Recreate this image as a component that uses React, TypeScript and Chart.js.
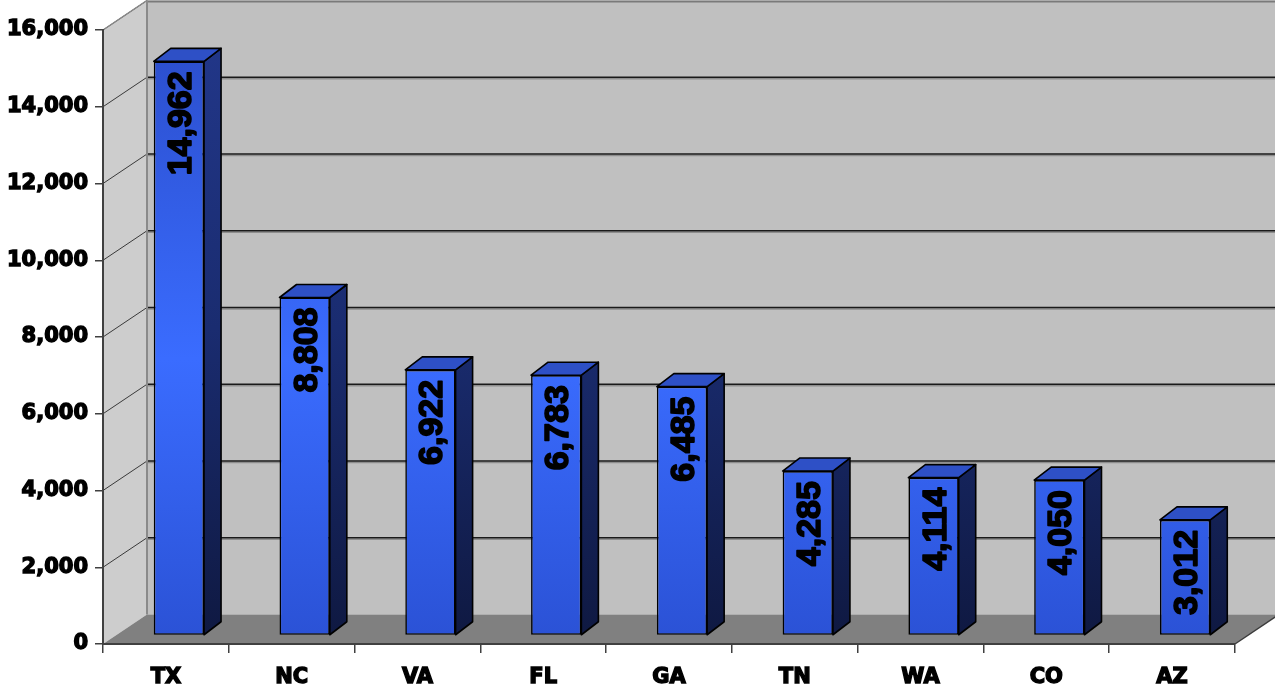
import React, { useEffect, useRef } from "react";
import { Chart, registerables } from "chart.js";

Chart.register(...registerables);

// ---- data ----
const categories = ["TX", "NC", "VA", "FL", "GA", "TN", "WA", "CO", "AZ"];
const values = [14962, 8808, 6922, 6783, 6485, 4285, 4114, 4050, 3012];
const yMin = 0;
const yMax = 16000;
const yStep = 2000;

// ---- 3D geometry / styles ----
const WALL_DX = 44;
const WALL_DY = -29.5;
const BAR_DX = 13;
const BAR_DY = -8.5;
const DEPTH_DX = 17;
const DEPTH_DY = -13;
const LABEL_GAP = 10;
const AXIS_FONT = { family: "'DejaVu Sans', sans-serif", weight: "bold" as const, size: 21 };
const LABEL_FONT = "bold 34px 'Liberation Sans', Arial, sans-serif";

const fmt = (v: number) => Number(v).toLocaleString("en-US");

const wallsPlugin = {
  id: "walls3d",
  beforeDraw(chart: any) {
    const { ctx, chartArea } = chart;
    const { left, right, top, bottom } = chartArea;
    const W = chart.width;
    const ys = chart.scales.y;
    ctx.save();
    // side wall
    ctx.fillStyle = "#cdcdcd";
    ctx.beginPath();
    ctx.moveTo(left, top);
    ctx.lineTo(left + WALL_DX, top + WALL_DY);
    ctx.lineTo(left + WALL_DX, bottom + WALL_DY);
    ctx.lineTo(left, bottom);
    ctx.closePath();
    ctx.fill();
    // back wall
    ctx.fillStyle = "#c0c0c0";
    ctx.fillRect(left + WALL_DX, top + WALL_DY, W - (left + WALL_DX), bottom - top);
    // floor
    ctx.fillStyle = "#808080";
    ctx.beginPath();
    ctx.moveTo(left, bottom);
    ctx.lineTo(right, bottom);
    ctx.lineTo(right + WALL_DX, bottom + WALL_DY);
    ctx.lineTo(left + WALL_DX, bottom + WALL_DY);
    ctx.closePath();
    ctx.fill();
    // gridlines
    ys.ticks.forEach((t: any) => {
      const py = ys.getPixelForValue(t.value);
      if (t.value > yMin && t.value < yMax) {
        ctx.strokeStyle = "#8e8e8e";
        ctx.lineWidth = 1.5;
        ctx.beginPath();
        ctx.moveTo(left + WALL_DX, py + WALL_DY + 1.5);
        ctx.lineTo(W, py + WALL_DY + 1.5);
        ctx.stroke();
        ctx.strokeStyle = "#1a1a1a";
        ctx.lineWidth = 1.6;
        ctx.beginPath();
        ctx.moveTo(left + WALL_DX, py + WALL_DY);
        ctx.lineTo(W, py + WALL_DY);
        ctx.stroke();
      }
      if (t.value > yMin) {
        ctx.strokeStyle = "#3a3a3a";
        ctx.lineWidth = 1;
        ctx.beginPath();
        ctx.moveTo(left, py);
        ctx.lineTo(left + WALL_DX, py + WALL_DY);
        ctx.stroke();
      }
    });
    // top edge of back wall
    ctx.strokeStyle = "#7a7a7a";
    ctx.lineWidth = 2;
    ctx.beginPath();
    ctx.moveTo(left + WALL_DX, top + WALL_DY + 1);
    ctx.lineTo(W, top + WALL_DY + 1);
    ctx.stroke();
    // corner edge
    ctx.strokeStyle = "#8a8a8a";
    ctx.lineWidth = 2;
    ctx.beginPath();
    ctx.moveTo(left + WALL_DX, top + WALL_DY);
    ctx.lineTo(left + WALL_DX, bottom + WALL_DY);
    ctx.stroke();
    // side wall top edge
    ctx.strokeStyle = "#8a8a8a";
    ctx.lineWidth = 1.5;
    ctx.beginPath();
    ctx.moveTo(left, top);
    ctx.lineTo(left + WALL_DX, top + WALL_DY);
    ctx.stroke();
    // floor right edge
    ctx.strokeStyle = "#3c3c3c";
    ctx.lineWidth = 1.5;
    ctx.beginPath();
    ctx.moveTo(right, bottom);
    ctx.lineTo(right + WALL_DX, bottom + WALL_DY);
    ctx.stroke();
    ctx.restore();
  },
  beforeDatasetsDraw(chart: any) {
    chart.ctx.save();
    chart.ctx.translate(BAR_DX, BAR_DY);
  },
  afterDatasetsDraw(chart: any) {
    const { ctx } = chart;
    const meta = chart.getDatasetMeta(0);
    const ca = chart.chartArea;
    meta.data.forEach((bar: any, i: number) => {
      const { x, y, base, width } = bar.getProps(["x", "y", "base", "width"], true);
      const l = x - width / 2;
      const r = x + width / 2;
      // side face
      const sg = ctx.createLinearGradient(0, ca.top, 0, ca.bottom);
      sg.addColorStop(0, "#22378a");
      sg.addColorStop(0.5, "#1a2c70");
      sg.addColorStop(1, "#0f1942");
      ctx.fillStyle = sg;
      ctx.strokeStyle = "#000";
      ctx.lineWidth = 1.6;
      ctx.lineJoin = "round";
      ctx.beginPath();
      ctx.moveTo(r, y);
      ctx.lineTo(r + DEPTH_DX, y + DEPTH_DY);
      ctx.lineTo(r + DEPTH_DX, base + DEPTH_DY);
      ctx.lineTo(r, base);
      ctx.closePath();
      ctx.fill();
      ctx.stroke();
      // top face
      ctx.fillStyle = "#2e50c6";
      ctx.beginPath();
      ctx.moveTo(l, y);
      ctx.lineTo(l + DEPTH_DX, y + DEPTH_DY);
      ctx.lineTo(r + DEPTH_DX, y + DEPTH_DY);
      ctx.lineTo(r, y);
      ctx.closePath();
      ctx.fill();
      ctx.stroke();
      // value label (rotated)
      ctx.save();
      ctx.font = LABEL_FONT;
      ctx.fillStyle = "#000";
      ctx.strokeStyle = "#000";
      ctx.lineWidth = 1.6;
      ctx.lineJoin = "round";
      ctx.textAlign = "right";
      ctx.textBaseline = "alphabetic";
      ctx.translate(x, y + LABEL_GAP);
      ctx.rotate(-Math.PI / 2);
      ctx.fillText(fmt(values[i]), 0, 12);
      ctx.strokeText(fmt(values[i]), 0, 12);
      ctx.restore();
    });
    ctx.restore();
  },
};

export default function App() {
  const ref = useRef<HTMLCanvasElement | null>(null);
  useEffect(() => {
    if (!ref.current) return;
    const chart = new Chart(ref.current, {
      type: "bar",
      data: {
        labels: categories,
        datasets: [
          {
            data: values,
            backgroundColor: (c: any) => {
              const ch = c.chart;
              const ca = ch.chartArea;
              if (!ca) return "#3366ff";
              const g = ch.ctx.createLinearGradient(0, ca.top, 0, ca.bottom);
              g.addColorStop(0, "#2a4cc9");
              g.addColorStop(0.55, "#3a6cff");
              g.addColorStop(1, "#2b52d6");
              return g;
            },
            borderColor: "#000",
            borderWidth: 1.6,
            borderSkipped: false,
            barPercentage: 0.4,
            categoryPercentage: 1,
          },
        ],
      },
      options: {
        responsive: false,
        animation: false,
        devicePixelRatio: 1,
        layout: { padding: { left: 0, right: 40, top: 30, bottom: 0 } },
        plugins: { legend: { display: false }, tooltip: { enabled: false } },
        scales: {
          x: {
            offset: true,
            ticks: {
              color: "#000",
              font: AXIS_FONT,
              padding: 12,
              maxRotation: 0,
              textStrokeColor: "#000",
              textStrokeWidth: 1.4,
            },
            grid: { offset: true, drawOnChartArea: false, drawTicks: true, tickLength: 9, color: "#404040", lineWidth: 1.5 },
            border: { display: true, color: "#404040", width: 2 },
            afterFit: (s: any) => {
              s.height = 48;
            },
          },
          y: {
            min: yMin,
            max: yMax,
            ticks: {
              stepSize: yStep,
              color: "#000",
              font: AXIS_FONT,
              padding: 7,
              textStrokeColor: "#000",
              textStrokeWidth: 1.4,
              callback: (v: any) => fmt(v),
            },
            grid: { drawOnChartArea: false, drawTicks: true, tickLength: 8, color: "#404040", lineWidth: 1.5 },
            border: { display: true, color: "#404040", width: 2 },
            afterFit: (s: any) => {
              s.width = 103;
            },
          },
        },
      },
      plugins: [wallsPlugin],
    });
    return () => chart.destroy();
  }, []);
  return (
    <div style={{ position: "absolute", left: 0, top: 0, width: 1275, height: 692, background: "#fff" }}>
      <canvas ref={ref} width={1275} height={692} style={{ display: "block" }} />
    </div>
  );
}
